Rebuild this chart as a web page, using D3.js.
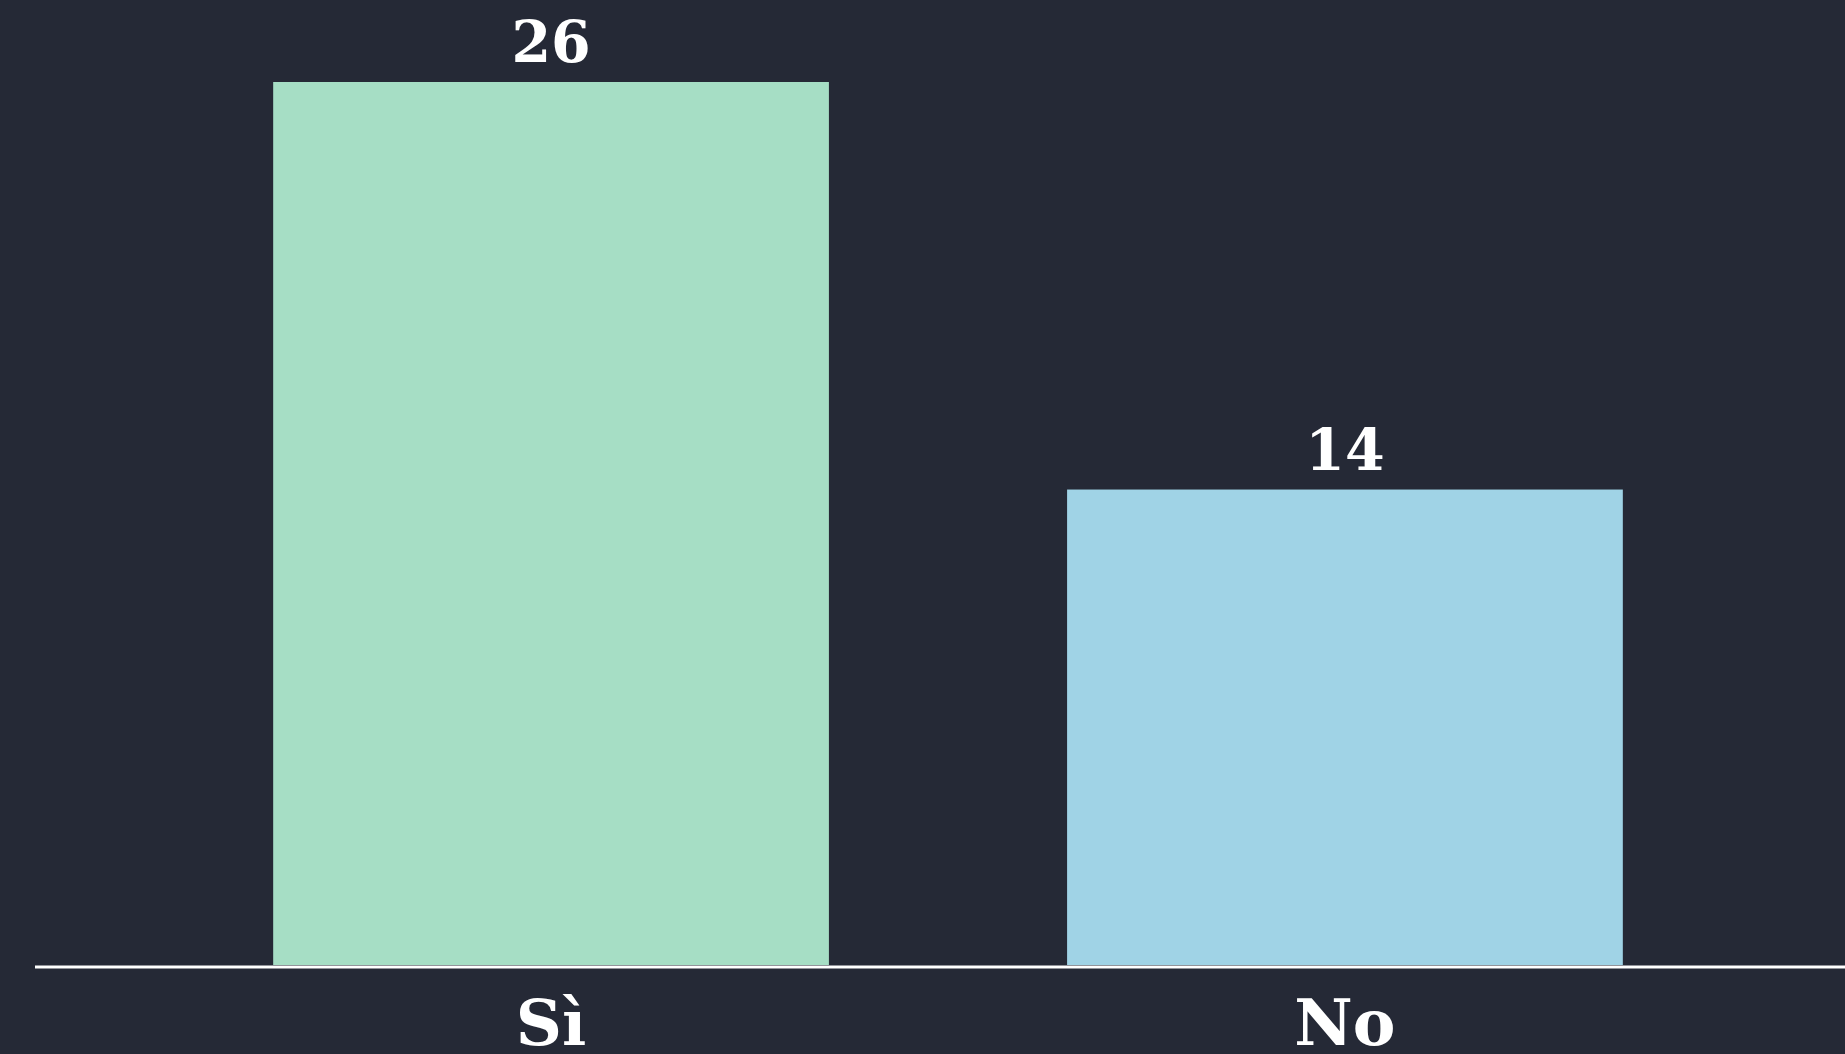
<!DOCTYPE html>
<html>
<head>
<meta charset="utf-8">
<script src="https://cdn.jsdelivr.net/npm/d3@7"></script>
<style>
  html, body { margin: 0; padding: 0; background: #252936; overflow: hidden; }
  svg { display: block; }
  text { font-family: "Roboto Slab", "DejaVu Serif", serif; font-weight: bold; fill: #ffffff; }
</style>
</head>
<body>
<svg width="1845" height="1054"></svg>
<script>
var categories = ["Sì", "No"];
var values = [26, 14];
var colors = ["#a6dec5", "#a0d3e6"];

var svg = d3.select("svg"),
    width = +svg.attr("width"),
    height = +svg.attr("height");

var baseline = 965;

var x = d3.scaleBand()
    .domain(categories)
    .range([35, 1861])
    .padding(0.3);

var y = d3.scaleLinear()
    .domain([0, 26])
    .range([baseline, 82]);

var bars = svg.append("g")
    .attr("class", "bars")
    .selectAll("rect")
    .data(categories)
    .enter().append("rect")
    .attr("x", function(d) { return x(d); })
    .attr("width", x.bandwidth())
    .attr("y", function(d, i) { return y(values[i]); })
    .attr("height", function(d, i) { return baseline - y(values[i]); })
    .attr("fill", function(d, i) { return colors[i]; });

// value labels above bars
svg.append("g")
    .selectAll("text")
    .data(categories)
    .enter().append("text")
    .attr("x", function(d) { return x(d) + x.bandwidth() / 2; })
    .attr("y", function(d, i) { return y(values[i]) - 20; })
    .attr("text-anchor", "middle")
    .style("font-size", "57px")
    .text(function(d, i) { return values[i]; });

// axis line
svg.append("line")
    .attr("x1", 35)
    .attr("x2", width)
    .attr("y1", baseline + 2)
    .attr("y2", baseline + 2)
    .style("stroke", "#ffffff")
    .style("stroke-width", 3);

// category labels
svg.append("g")
    .selectAll("text")
    .data(categories)
    .enter().append("text")
    .attr("x", function(d) { return x(d) + x.bandwidth() / 2; })
    .attr("y", 1045)
    .attr("text-anchor", "middle")
    .style("font-size", "64px")
    .text(function(d) { return d; });
</script>
</body>
</html>
